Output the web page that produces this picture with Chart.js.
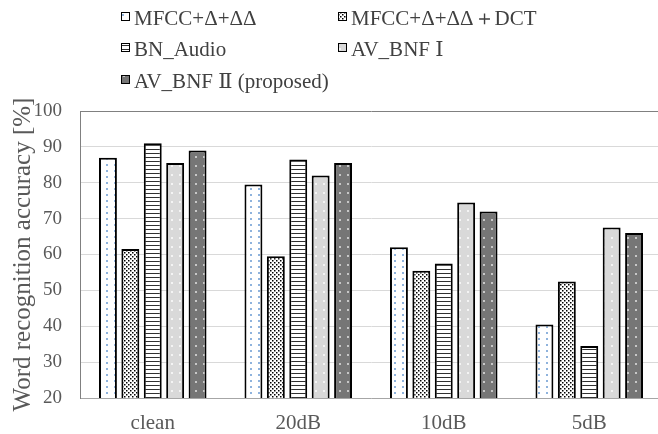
<!DOCTYPE html>
<html>
<head>
<meta charset="utf-8">
<script src="https://cdn.jsdelivr.net/npm/chart.js@4"></script>
<style>
  html, body { margin: 0; padding: 0; background: #fff; overflow: hidden; }
  #wrap { width: 658px; height: 434px; overflow: hidden; }
  canvas { display: block; }
</style>
</head>
<body>
<div id="wrap"><canvas id="grafico" width="664" height="434"></canvas></div>
<script>
const categories = ["clean", "20dB", "10dB", "5dB"];
const seriesNames = [
  "MFCC+Δ+ΔΔ",
  "MFCC+Δ+ΔΔ＋DCT",
  "BN_Audio",
  "AV_BNF Ⅰ",
  "AV_BNF Ⅱ (proposed)",
];
const mfcc = [87, 79.5, 62, 40.5];
const mfccDct = [61.5, 59.5, 55.5, 52.5];
const bnAudio = [91, 86.5, 57.5, 34.5];
const avBnf1 = [85.5, 82, 74.5, 67.5];
const avBnf2 = [89, 85.5, 72, 66];
const yTicks = [20, 30, 40, 50, 60, 70, 80, 90, 100];

const serif = "'Liberation Serif', 'DejaVu Serif', 'Times New Roman', serif";
const ctx = document.getElementById("grafico").getContext("2d");

// small tiles used as fill patterns
function makePattern(w, h, bg, draw) {
  const c = document.createElement("canvas");
  c.width = w;
  c.height = h;
  const g = c.getContext("2d");
  g.fillStyle = bg;
  g.fillRect(0, 0, w, h);
  draw(g);
  return ctx.createPattern(c, "repeat");
}

const fills = [
  makePattern(8, 6, "#ffffff", (g) => {
    g.fillStyle = "#8fb3dd";
    g.fillRect(2, 2, 2, 2);
  }),
  makePattern(4, 4, "#ffffff", (g) => {
    g.fillStyle = "#000000";
    g.fillRect(0, 0, 1.5, 1.5);
    g.fillRect(2, 2, 1.5, 1.5);
  }),
  makePattern(4, 4, "#ffffff", (g) => {
    g.fillStyle = "#303030";
    g.fillRect(0, 1, 4, 1);
  }),
  makePattern(8, 9, "#d9d9d9", (g) => {
    g.fillStyle = "#f4f4f4";
    g.fillRect(3, 3, 2, 2);
  }),
  makePattern(8, 9, "#767676", (g) => {
    g.fillStyle = "#c8c8c8";
    g.fillRect(3, 3, 2, 2);
  }),
];

const values = [mfcc, mfccDct, bnAudio, avBnf1, avBnf2];

// legend in two columns, like the original figure
const columnLegend = {
  id: "columnLegend",
  afterDraw(chart) {
    const c = chart.ctx;
    const colX = [121, 338];
    const rowY = [25, 56, 88];
    c.save();
    c.font = Chart.helpers.toFont({ family: serif, size: 21 }).string;
    c.textBaseline = "alphabetic";
    chart.data.datasets.forEach((ds, i) => {
      const x = colX[i % 2];
      const y = rowY[Math.floor(i / 2)];
      c.fillStyle = ds.backgroundColor;
      c.fillRect(x, y - 13, 9, 9);
      c.strokeStyle = "#000";
      c.lineWidth = 1;
      c.strokeRect(x + 0.5, y - 12.5, 8, 8);
      c.fillStyle = "#404040";
      c.fillText(ds.label, x + 13, y);
    });
    c.restore();
  },
};

new Chart(ctx, {
  type: "bar",
  data: {
    labels: categories,
    datasets: values.map((v, i) => ({
      label: seriesNames[i],
      data: v,
      backgroundColor: fills[i],
      borderColor: "#000000",
      borderWidth: 2,
      borderSkipped: false,
      categoryPercentage: 0.77,
      barPercentage: 0.8,
    })),
  },
  options: {
    responsive: false,
    animation: false,
    layout: {
      padding: { top: 111, bottom: 4, left: 8, right: 2 },
    },
    plugins: {
      legend: { display: false },
      tooltip: { enabled: false },
    },
    scales: {
      x: {
        afterFit: (axis) => {
          axis.height = 32;
        },
        grid: { display: false },
        border: { display: true, color: "#a6a6a6", width: 1 },
        ticks: {
          font: { family: serif, size: 21 },
          color: "#595959",
          padding: 5,
        },
      },
      y: {
        min: 20,
        max: 100,
        afterBuildTicks: (axis) => {
          axis.ticks = yTicks.map((v) => ({ value: v }));
        },
        afterFit: (axis) => {
          axis.width = 72;
        },
        grid: {
          drawTicks: false,
          color: (c) => (c.tick && c.tick.value === 100 ? "#808080" : "#d9d9d9"),
          lineWidth: 1,
        },
        border: { display: true, color: "#808080", width: 1 },
        ticks: {
          font: { family: serif, size: 19 },
          color: "#595959",
          padding: 18,
        },
        title: {
          display: true,
          text: "Word recognition accuracy [%]",
          font: { family: serif, size: 25 },
          color: "#595959",
          padding: { top: 0, bottom: 0 },
        },
      },
    },
  },
  plugins: [columnLegend],
});
</script>
</body>
</html>
